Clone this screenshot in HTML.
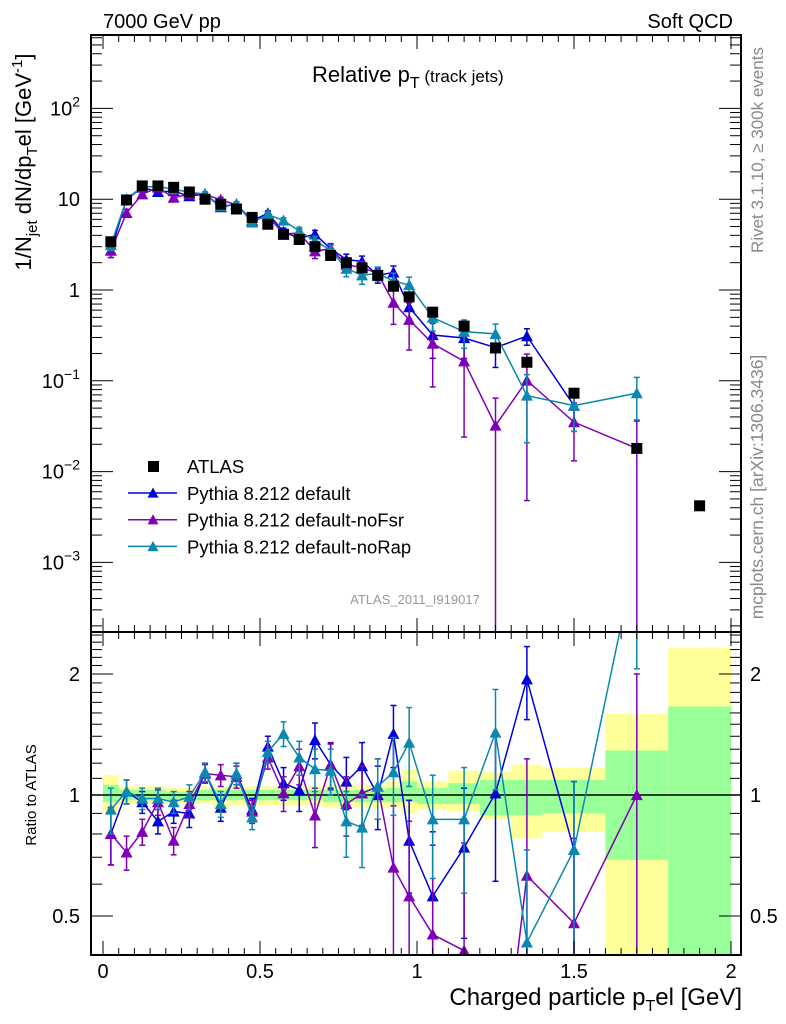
<!DOCTYPE html>
<html><head><meta charset="utf-8"><style>
html,body{margin:0;padding:0;background:#fff;width:786px;height:1024px;overflow:hidden;}
svg{display:block;font-family:"Liberation Sans",sans-serif;}
</style></head><body>
<svg id="c" width="786" height="1024" viewBox="0 0 786 1024" overflow="hidden"></svg>
<script>
const xCenters=[0.025,0.075,0.125,0.175,0.225,0.275,0.325,0.375,0.425,0.475,0.525,0.575,0.625,0.675,0.725,0.775,0.825,0.875,0.925,0.975,1.05,1.15,1.25,1.35,1.5,1.7,1.9];
const binEdges=[0,0.05,0.1,0.15,0.2,0.25,0.3,0.35,0.4,0.45,0.5,0.55,0.6,0.65,0.7,0.75,0.8,0.85,0.9,0.95,1.0,1.1,1.2,1.3,1.4,1.6,1.8,2.0];
const atlasVals=[3.4,9.8,14,14,13.5,12,10,8.8,7.8,6.3,5.3,4.1,3.6,3.0,2.4,2.0,1.75,1.45,1.1,0.84,0.57,0.40,0.23,0.16,0.073,0.018,0.0042];
const ratioDefault=[0.80,1.02,0.96,0.86,0.91,0.90,1.14,0.93,1.13,0.92,1.32,1.07,1.03,1.37,1.19,1.08,1.18,1.0,1.42,0.77,0.56,0.74,1.01,1.94,0.73,null,null];
const ratioNoFsr=[0.80,0.72,0.81,0.96,0.77,0.95,1.13,1.12,1.11,0.91,1.24,1.01,1.18,0.89,1.19,0.95,1.01,1.05,0.66,0.56,0.45,0.41,0.14,0.63,0.48,1.0,null];
const ratioNoRap=[0.92,1.02,0.98,0.98,0.96,0.99,1.14,0.95,1.13,0.88,1.28,1.42,1.24,1.16,1.15,0.86,0.83,1.05,1.14,1.35,0.87,0.87,1.43,0.43,0.73,4.06,null];
const errDefault=[0.13,0.07,0.06,0.06,0.06,0.07,0.06,0.07,0.07,0.06,0.08,0.1,0.12,0.14,0.15,0.16,0.17,0.18,0.25,0.2,0.25,0.3,0.4,0.4,0.35,null,null];
const errNoFsr=[0.13,0.07,0.06,0.07,0.06,0.07,0.06,0.07,0.07,0.06,0.08,0.1,0.12,0.15,0.16,0.16,0.17,0.18,0.28,0.3,0.3,0.35,0.14,0.6,0.3,1.0,null];
const errNoRap=[0.12,0.07,0.06,0.06,0.06,0.07,0.06,0.07,0.07,0.06,0.08,0.1,0.12,0.14,0.15,0.16,0.17,0.18,0.25,0.3,0.25,0.3,0.4,0.3,0.35,2.0,null];
const bandYellowHi=[1.12,1.05,1.05,1.05,1.04,1.04,1.05,1.05,1.05,1.05,1.05,1.05,1.05,1.05,1.06,1.06,1.06,1.06,1.08,1.16,1.08,1.15,1.14,1.19,1.17,1.59,2.32];
const bandYellowLo=[0.91,0.95,0.95,0.95,0.95,0.95,0.95,0.93,0.94,0.94,0.94,0.94,0.94,0.94,0.93,0.93,0.93,0.93,0.93,0.90,0.92,0.91,0.87,0.78,0.81,0.3,0.3];
const bandGreenHi=[1.06,1.03,1.03,1.03,1.02,1.02,1.03,1.03,1.03,1.03,1.03,1.03,1.03,1.03,1.03,1.03,1.03,1.03,1.04,1.08,1.04,1.07,1.09,1.09,1.09,1.29,1.66];
const bandGreenLo=[0.96,0.97,0.97,0.97,0.97,0.97,0.97,0.97,0.97,0.97,0.97,0.97,0.97,0.97,0.96,0.96,0.96,0.96,0.96,0.96,0.95,0.95,0.89,0.89,0.90,0.69,0.3];
const mainTickLabels=[["10","2",2],["10","",1],["1","",0],["10","−1",-1],["10","−2",-2],["10","−3",-3]];
const xTickLabels=["0","0.5","1","1.5","2"];
const ratioTickLabels=[["2",2],["1",1],["0.5",0.5]];

const NS="http://www.w3.org/2000/svg";
const svg=document.getElementById('c');
const L=91,R=741,T=35,M=632,B=955;
const X=v=>103+v*314;
const Ym=v=>290-90.8*Math.log10(v);
const Yr=v=>795-402*Math.log10(v);
function el(tag,attrs,parent){const e=document.createElementNS(NS,tag);for(const k in attrs)e.setAttribute(k,attrs[k]);(parent||svg).appendChild(e);return e;}

const defs=el('defs',{});
const cm=el('clipPath',{id:'cm'},defs);el('rect',{x:L,y:T,width:R-L,height:M-T},cm);
const cr=el('clipPath',{id:'cr'},defs);el('rect',{x:L,y:M,width:R-L,height:B-M},cr);

const bandG=el('g',{'clip-path':'url(#cr)'});


for(let i=0;i<xCenters.length;i++){
  const x0=X(binEdges[i]),x1=X(binEdges[i+1]);
  const ry=el('rect',{x:x0,y:Yr(bandYellowHi[i]),width:x1-x0,height:Yr(bandYellowLo[i])-Yr(bandYellowHi[i]),fill:'#ffff99'},bandG);
  
  
  const rg=el('rect',{x:x0,y:Yr(bandGreenHi[i]),width:x1-x0,height:Yr(bandGreenLo[i])-Yr(bandGreenHi[i]),fill:'#99ff99'},bandG);
  
  
}
el('line',{x1:L,x2:R,y1:Yr(1),y2:Yr(1),stroke:'#000','stroke-width':1.5});

const series=[
  {name:'pythia-default',color:'#0000dd',r:ratioDefault,e:errDefault,label:'Pythia 8.212 default'},
  {name:'pythia-nofsr',color:'#8000b8',r:ratioNoFsr,e:errNoFsr,label:'Pythia 8.212 default-noFsr'},
  {name:'pythia-norap',color:'#0b88b0',r:ratioNoRap,e:errNoRap,label:'Pythia 8.212 default-noRap'}
];
function tri(g,x,y,c,s){s=s||6;return el('polygon',{points:`${x},${y-s} ${x-s},${y+s*0.85} ${x+s},${y+s*0.85}`,fill:c},g);}

series.forEach(s=>{
  ['main','ratio'].forEach(panel=>{
    const g=el('g',{'clip-path':panel==='main'?'url(#cm)':'url(#cr)'});
    
    
    const Y=panel==='main'?Ym:Yr;
    const bottom=panel==='main'?M:B;
    const val=i=>panel==='main'?atlasVals[i]*s.r[i]:s.r[i];
    const err=i=>panel==='main'?atlasVals[i]*s.e[i]:s.e[i];
    let pts=[];
    for(let i=0;i<xCenters.length;i++){if(s.r[i]==null)continue;pts.push(X(xCenters[i])+','+Y(val(i)));}
    el('polyline',{points:pts.join(' '),fill:'none',stroke:s.color,'stroke-width':1.5},g);
    for(let i=0;i<xCenters.length;i++){
      if(s.r[i]==null)continue;
      const x=X(xCenters[i]),v=val(i),e=err(i);
      const yt=Y(v+e);
      const hasLow=v-e>0&&Y(v-e)<bottom;
      const yb=hasLow?Y(v-e):bottom+2;
      el('line',{x1:x,x2:x,y1:yt,y2:yb,stroke:s.color,'stroke-width':1.5},g);
      el('line',{x1:x-3,x2:x+3,y1:yt,y2:yt,stroke:s.color,'stroke-width':1.5},g);
      if(hasLow)el('line',{x1:x-3,x2:x+3,y1:yb,y2:yb,stroke:s.color,'stroke-width':1.5},g);
      const p=tri(g,x,Y(v),s.color);
      
      
    }
  });
});

const ag=el('g',{'clip-path':'url(#cm)'});


for(let i=0;i<xCenters.length;i++){
  const r=el('rect',{x:X(xCenters[i])-5.5,y:Ym(atlasVals[i])-5.5,width:11,height:11,fill:'#000'},ag);
  
  
}

const f1=el('rect',{x:L,y:T,width:R-L,height:M-T,fill:'none',stroke:'#000','stroke-width':2});


const f2=el('rect',{x:L,y:M,width:R-L,height:B-M,fill:'none',stroke:'#000','stroke-width':2});



for(let k=0;k<=40;k++){
  const v=k*0.05,x=X(v),major=k%10===0,len=major?14:7;
  [[T,1],[M,-1],[M,1],[B,-1]].forEach(([y,d])=>el('line',{x1:x,x2:x,y1:y,y2:y+d*len,stroke:'#000','stroke-width':1}));
}
for(let d=-4;d<=2;d++){for(let m=1;m<10;m++){const v=m*Math.pow(10,d),y=Ym(v);if(y<T||y>M)continue;const len=m===1?22:11;
  el('line',{x1:L,x2:L+len,y1:y,y2:y,stroke:'#000'});el('line',{x1:R,x2:R-len,y1:y,y2:y,stroke:'#000'});}}
for(let k=4;k<=25;k++){const v=k/10,y=Yr(v);if(y<M||y>B)continue;const major=(k===5||k===10||k===20);const len=major?22:11;
  el('line',{x1:L,x2:L+len,y1:y,y2:y,stroke:'#000'});el('line',{x1:R,x2:R-len,y1:y,y2:y,stroke:'#000'});}

function txt(s,attrs,name){const t=el('text',attrs);t.innerHTML=s;return t;}
mainTickLabels.forEach(([b,e,p])=>{
  txt(`${b}<tspan dy="-9" font-size="14">${e}</tspan>`,{x:80,y:Ym(Math.pow(10,p))+7,'font-size':20,'text-anchor':'end'},'y-tick-label');
});
xTickLabels.forEach((s,i)=>txt(s,{x:X(i*0.5),y:978,'font-size':20,'text-anchor':'middle'},'x-tick-label'));
ratioTickLabels.forEach(([s,v])=>{
  txt(s,{x:80,y:Yr(v)+7,'font-size':20,'text-anchor':'end'},'ratio-tick-label-left');
  txt(s,{x:750,y:Yr(v)+7,'font-size':20,'text-anchor':'start'},'ratio-tick-label-right');
});

txt('7000 GeV pp',{x:103,y:28,'font-size':20},'energy-label');
txt('Soft QCD',{x:733,y:28,'font-size':20,'text-anchor':'end'},'process-label');
txt('Relative p<tspan dy="6" font-size="16">T</tspan><tspan dy="-6" font-size="17"> (track jets)</tspan>',{x:312,y:82,'font-size':22},'plot-title');
txt('ATLAS_2011_I919017',{x:415,y:604,'font-size':13,fill:'#999','text-anchor':'middle'},'analysis-id');
txt('1/N<tspan dy="6" font-size="15">jet</tspan><tspan dy="-6"> dN/dp</tspan><tspan dy="6" font-size="15">T</tspan><tspan dy="-6">el [GeV</tspan><tspan dy="-9" font-size="15">-1</tspan><tspan dy="9">]</tspan>',{x:0,y:0,'font-size':22,'text-anchor':'middle',transform:'translate(31,162) rotate(-90)'},'y-axis-title');
txt('Ratio to ATLAS',{x:0,y:0,'font-size':15,'text-anchor':'middle',transform:'translate(36,795) rotate(-90)'},'ratio-axis-title');
txt('Charged particle p<tspan dy="6" font-size="16">T</tspan><tspan dy="-6">el [GeV]</tspan>',{x:742,y:1005,'font-size':24,'text-anchor':'end'},'x-axis-title');
txt('Rivet 3.1.10, ≥ 300k events',{x:0,y:0,'font-size':17,fill:'#888','text-anchor':'middle',transform:'translate(763,150) rotate(-90)'},'rivet-version-label');
txt('mcplots.cern.ch [arXiv:1306.3436]',{x:0,y:0,'font-size':17.5,fill:'#888','text-anchor':'middle',transform:'translate(763,487) rotate(-90)'},'mcplots-label');

const lg=el('g',{});


const ls=el('rect',{x:148,y:461,width:11,height:11,fill:'#000'},lg);


txt('ATLAS',{x:187,y:473,'font-size':18.5},'legend-entry-atlas');
series.forEach((s,i)=>{
  const y=493+i*26.7;
  el('line',{x1:128,x2:177,y1:y,y2:y,stroke:s.color,'stroke-width':1.5},lg);
  tri(lg,153,y,s.color,5.5);
  txt(s.label,{x:187,y:y+7,'font-size':18.5},'legend-entry-'+s.name);
});
</script>
</body></html>
